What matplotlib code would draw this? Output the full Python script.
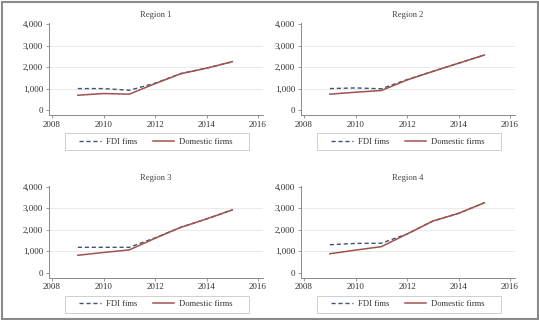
import matplotlib
matplotlib.use("Agg")
import matplotlib.pyplot as plt
from matplotlib.patches import Rectangle
from matplotlib.ticker import FuncFormatter

plt.rcParams['font.family'] = ['Liberation Serif', 'DejaVu Serif']

years = [2009, 2010, 2011, 2012, 2013, 2014, 2015]
regions = ["Region 1", "Region 2", "Region 3", "Region 4"]
fdi = [
    [1000, 1000, 920, 1250, 1700, 1950, 2250],
    [1000, 1030, 990, 1420, 1800, 2180, 2560],
    [1180, 1180, 1180, 1620, 2110, 2500, 2920],
    [1300, 1360, 1370, 1800, 2400, 2760, 3250],
]
domestic = [
    [690, 770, 740, 1230, 1690, 1950, 2250],
    [740, 830, 910, 1400, 1800, 2180, 2560],
    [810, 940, 1060, 1600, 2110, 2500, 2920],
    [880, 1050, 1210, 1800, 2400, 2760, 3250],
]
xticks = [2008, 2010, 2012, 2014, 2016]
yticks = [0, 1000, 2000, 3000, 4000]

W, H = 539, 320
fig = plt.figure(figsize=(W / 100, H / 100), dpi=100)
fig.patch.set_facecolor("white")

XLIM = (2007.88, 2016.2)
YLIM = (-230, 4050)
pxx = 25.75
pxy = 0.0215
aw = (XLIM[1] - XLIM[0]) * pxx
ah = (YLIM[1] - YLIM[0]) * pxy

positions = [(49, 23), (301, 23), (49, 185.6), (301, 185.6)]

FDI_C = "#3f5577"
DOM_C = "#a0524f"
TXT = "#333333"
SP = "#8a8a8a"

for i in range(4):
    lx, ty = positions[i]
    ax = fig.add_axes([lx / W, 1 - (ty + ah) / H, aw / W, ah / H])
    ax.plot(years, fdi[i], color=FDI_C, lw=1.0, ls=(0, (3, 2)), label="FDI fims")
    ax.plot(years, domestic[i], color=DOM_C, lw=1.1, label="Domestic firms")
    ax.set_xlim(*XLIM)
    ax.set_ylim(*YLIM)
    ax.set_xticks(xticks)
    ax.set_yticks(yticks)
    ax.yaxis.set_major_formatter(FuncFormatter(lambda v, p: f"{int(v):,}"))
    for y in [1000, 2000, 3000]:
        ax.axhline(y, color="#e6e6e6", lw=0.6, zorder=0)
    for s in ["top", "right"]:
        ax.spines[s].set_visible(False)
    for s in ["left", "bottom"]:
        ax.spines[s].set_color(SP)
        ax.spines[s].set_linewidth(0.7)
    ax.tick_params(axis="both", length=2.2, width=0.6, color=SP,
                   labelsize=6.5, labelcolor=TXT, pad=2)
    ax.set_title(regions[i], fontsize=6.2, color="#444444", pad=4)
    leg = ax.legend(loc="center", bbox_to_anchor=(0.5, -26.5 / ah),
                    ncol=2, frameon=False, fontsize=6.2,
                    handlelength=2.5, handletextpad=0.6, columnspacing=1.8)
    for t in leg.get_texts():
        t.set_color(TXT)
    # legend box
    bx = lx + 16
    by = ty + ah + 18
    fig.patches.append(Rectangle((bx / W, 1 - (by + 17) / H), 184 / W, 17 / H,
                                 transform=fig.transFigure, fill=False,
                                 edgecolor="#cfcfcf", lw=0.7))

fig.patches.append(Rectangle((1.5 / W, 1.5 / H), (W - 3) / W, (H - 3) / H,
                             transform=fig.transFigure, fill=False,
                             edgecolor="#8a8a8a", lw=1.5))

fig.savefig("out.png", dpi=100)
